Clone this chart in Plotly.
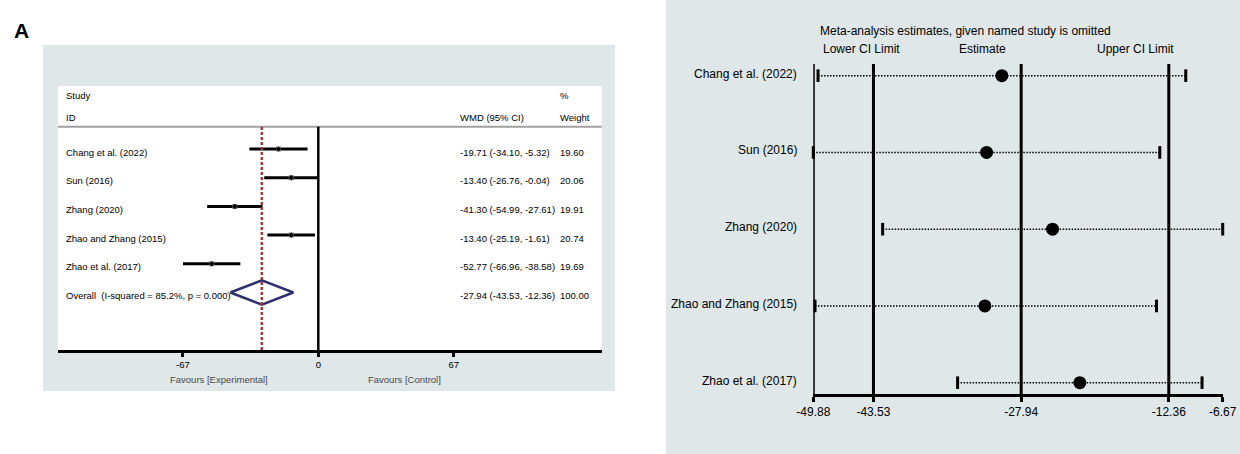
import plotly.graph_objects as go

# ---- Panel A: forest plot (WMD, random effects) ----
studies = ["Chang et al. (2022)", "Sun (2016)", "Zhang (2020)",
           "Zhao and Zhang (2015)", "Zhao et al. (2017)"]
wmd = [-19.71, -13.40, -41.30, -13.40, -52.77]
ci_low = [-34.10, -26.76, -54.99, -25.19, -66.96]
ci_high = [-5.32, -0.04, -27.61, -1.61, -38.58]
weights = [19.60, 20.06, 19.91, 20.74, 19.69]

overall_label = "Overall\u00a0\u00a0(I-squared = 85.2%, p = 0.000)"
overall_est, overall_low, overall_high, overall_weight = -27.94, -43.53, -12.36, 100.00

forest_ticks = [-67, 0, 67]

# ---- Sensitivity analysis: estimate with each named study omitted ----
omit_est = [-29.98, -31.59, -24.63, -31.77, -21.75]
omit_low = [-49.38, -49.88, -42.56, -49.70, -34.65]
omit_high = [-10.57, -13.31, -6.67, -13.66, -8.85]
sens_ticks = [-49.88, -43.53, -27.94, -12.36, -6.67]
sens_refs = [-49.88, -43.53, -27.94, -12.36]

W, H = 1240, 454
FONT = "Liberation Sans, Arial, Helvetica, sans-serif"
BG = "#dfe7e9"


def px(x):
    return x / W


def py(y):
    return 1 - y / H


fig = go.Figure()
shapes = []
ann = []

# panel backgrounds
shapes.append(dict(type="rect", xref="paper", yref="paper", x0=px(43), x1=px(615),
                   y0=py(391), y1=py(45), fillcolor=BG, line_width=0, layer="below"))
shapes.append(dict(type="rect", xref="paper", yref="paper", x0=px(58), x1=px(601.7),
                   y0=py(350), y1=py(86), fillcolor="white", line_width=0, layer="below"))
shapes.append(dict(type="rect", xref="paper", yref="paper", x0=px(666), x1=1,
                   y0=0, y1=1, fillcolor=BG, line_width=0, layer="below"))

rows = list(range(len(studies)))
overall_row = len(studies)

# header rule, no-effect line and pooled-estimate line
shapes.append(dict(type="line", xref="paper", yref="paper", x0=px(58), x1=px(601.7),
                   y0=py(126.7), y1=py(126.7), line=dict(color="#a0a0a0", width=2)))
shapes.append(dict(type="line", xref="x", yref="paper", x0=0, x1=0,
                   y0=py(350), y1=py(126.7), line=dict(color="black", width=2.5)))
shapes.append(dict(type="line", xref="x", yref="paper", x0=overall_est, x1=overall_est,
                   y0=py(350), y1=py(126.7),
                   line=dict(color="#a33a3a", width=2.5, dash="3px,2px")))

# study CIs with weight boxes
fig.add_trace(go.Scatter(
    x=wmd, y=rows, mode="markers",
    marker=dict(symbol="square", size=5, color="#777777"),
    error_x=dict(type="data", symmetric=False,
                 array=[h - e for h, e in zip(ci_high, wmd)],
                 arrayminus=[e - l for e, l in zip(wmd, ci_low)],
                 color="black", thickness=3, width=0),
    xaxis="x", yaxis="y", showlegend=False, hoverinfo="skip"))
fig.add_trace(go.Scatter(
    x=wmd, y=rows, mode="markers",
    marker=dict(symbol="diamond", size=4, color="black"),
    xaxis="x", yaxis="y", showlegend=False, hoverinfo="skip"))

# pooled diamond
dh = 0.42
fig.add_trace(go.Scatter(
    x=[overall_low, overall_est, overall_high, overall_est, overall_low],
    y=[overall_row, overall_row - dh, overall_row, overall_row + dh, overall_row],
    mode="lines", line=dict(color="#2f2f6e", width=2.5),
    xaxis="x", yaxis="y", showlegend=False, hoverinfo="skip"))

small = dict(family=FONT, size=9.5, color="black")


def txt(x, y, text, xanchor="left", font=small, xref="paper", yref="paper", yshift=0):
    ann.append(dict(x=x, y=y, xref=xref, yref=yref, text=text, showarrow=False,
                    xanchor=xanchor, yanchor="middle", font=font, yshift=yshift))


txt(px(64), py(95.7), "Study")
txt(px(64), py(117), "ID")
txt(px(558.3), py(96), "%")
txt(px(458.3), py(117.3), "WMD (95% CI)")
txt(px(558.3), py(117.3), "Weight")

for r, name, e, lo, hi, w in zip(rows, studies, wmd, ci_low, ci_high, weights):
    txt(px(64), r, name, yref="y", yshift=-3)
    txt(px(458.3), r, f"{e:.2f} ({lo:.2f}, {hi:.2f})", yref="y", yshift=-3)
    txt(px(558.3), r, f"{w:.2f}", yref="y", yshift=-3)

txt(px(64), overall_row, overall_label, yref="y", yshift=-3)
txt(px(458.3), overall_row, f"{overall_est:.2f} ({overall_low:.2f}, {overall_high:.2f})",
    yref="y", yshift=-3)
txt(px(558.3), overall_row, f"{overall_weight:.2f}", yref="y", yshift=-3)

grey = dict(family=FONT, size=9.5, color="#4a4a4a")
txt(px(219), py(379), "Favours [Experimental]", xanchor="center", font=grey)
txt(px(404.7), py(379), "Favours [Control]", xanchor="center", font=grey)

txt(px(12), py(30.5), "<b>A</b>", font=dict(family=FONT, size=21, color="black"))

# ---- sensitivity panel ----
for v in sens_refs:
    shapes.append(dict(type="line", xref="x2", yref="y2 domain", x0=v, x1=v, y0=0, y1=1,
                       line=dict(color="black", width=3)))

for r, lo, hi in zip(rows, omit_low, omit_high):
    fig.add_trace(go.Scatter(
        x=[lo, hi], y=[r, r], mode="lines",
        line=dict(color="black", width=1.5, dash="1.5px,1.5px"),
        xaxis="x2", yaxis="y2", showlegend=False, hoverinfo="skip", cliponaxis=False))

fig.add_trace(go.Scatter(
    x=omit_low + omit_high, y=rows + rows, mode="markers",
    marker=dict(symbol="line-ns", size=9, line=dict(color="black", width=3)),
    xaxis="x2", yaxis="y2", showlegend=False, hoverinfo="skip", cliponaxis=False))
fig.add_trace(go.Scatter(
    x=omit_est, y=rows, mode="markers",
    marker=dict(symbol="circle", size=13, color="black"),
    xaxis="x2", yaxis="y2", showlegend=False, hoverinfo="skip", cliponaxis=False))

mid = dict(family=FONT, size=12, color="black")
for r, name in zip(rows, studies):
    txt(px(799), r, name, xanchor="right", font=mid, yref="y2", yshift=2)

txt(px(965), py(30.5), "Meta-analysis estimates, given named study is omitted",
    xanchor="center", font=mid)
txt(px(861), py(49), "Lower CI Limit", xanchor="center", font=mid)
txt(px(982.5), py(49), "Estimate", xanchor="center", font=mid)
txt(px(1135), py(49), "Upper CI Limit", xanchor="center", font=mid)

fig.update_layout(
    width=W, height=H,
    margin=dict(l=0, r=0, t=0, b=0, autoexpand=False),
    paper_bgcolor="white", plot_bgcolor="rgba(0,0,0,0)",
    font=dict(family=FONT, color="black"),
    shapes=shapes, annotations=ann,
    xaxis=dict(domain=[px(58), px(601.7)],
               range=[(58 - 318.3) / 2.021, (601.7 - 318.3) / 2.021],
               anchor="y", showgrid=False, zeroline=False, automargin=False,
               showline=True, linecolor="black", linewidth=3,
               ticks="outside", ticklen=4, tickwidth=3, tickcolor="black",
               tickvals=forest_ticks, ticktext=[str(t) for t in forest_ticks],
               tickfont=dict(family=FONT, size=9.5, color="black")),
    yaxis=dict(domain=[py(350), py(86)],
               range=[(350 - 149) / 28.7, (86 - 149) / 28.7],
               anchor="x", visible=False, automargin=False),
    xaxis2=dict(domain=[px(813.3), px(1222.7)],
                range=[sens_ticks[0], sens_ticks[-1]],
                anchor="y2", showgrid=False, zeroline=False, automargin=False,
                showline=True, linecolor="black", linewidth=3,
                ticks="outside", ticklen=5, tickwidth=3, tickcolor="black",
                tickvals=sens_ticks, ticktext=[f"{t:.2f}" for t in sens_ticks],
                tickfont=dict(family=FONT, size=12, color="black")),
    yaxis2=dict(domain=[py(394), py(64)],
                range=[(394 - 75.7) / 76.75, (64 - 75.7) / 76.75],
                anchor="x2", visible=False, automargin=False),
)

fig.write_html("out.html")
